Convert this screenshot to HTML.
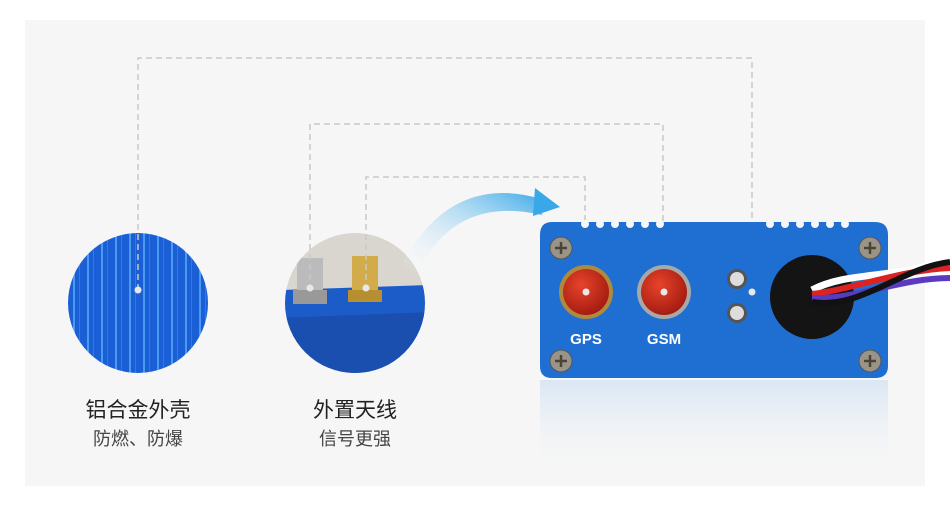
<!DOCTYPE html>
<html><head><meta charset="utf-8"><style>
body{margin:0;width:950px;height:532px;background:#fff;overflow:hidden;position:relative;font-family:"Liberation Sans","Noto Sans CJK SC",sans-serif}
.bg{position:absolute;left:25px;top:20px;width:900px;height:466px;background:#f6f6f6}
.t{position:absolute;text-align:center;width:200px;color:#222}
</style></head><body>
<div class="bg"></div>
<svg width="950" height="532" style="position:absolute;left:0;top:0">
<defs>
<linearGradient id="arr" x1="0" y1="1" x2="1" y2="0"><stop offset="0" stop-color="#fff" stop-opacity="0"/><stop offset="1" stop-color="#3aa8e8"/></linearGradient>
<linearGradient id="refl" x1="0" y1="0" x2="0" y2="1"><stop offset="0" stop-color="#c8dcf2"/><stop offset="1" stop-color="#f6f6f6" stop-opacity="0"/></linearGradient>
<radialGradient id="red" cx="0.4" cy="0.35" r="0.7"><stop offset="0" stop-color="#e8442a"/><stop offset="1" stop-color="#a01a10"/></radialGradient>
<pattern id="stripes" width="14" height="10" patternUnits="userSpaceOnUse"><rect width="14" height="10" fill="#1a5fd6"/><rect x="3" width="2" height="10" fill="#4a9af2"/><rect x="9" width="1" height="10" fill="#2e7ae8"/></pattern>
<clipPath id="c1"><circle cx="138" cy="303" r="70"/></clipPath>
<clipPath id="c2"><circle cx="355" cy="303" r="70"/></clipPath>
</defs>
<!-- left circle -->
<circle cx="138" cy="303" r="70" fill="url(#stripes)"/>
<!-- middle circle -->
<g clip-path="url(#c2)">
<rect x="280" y="230" width="150" height="150" fill="#d9d6cf"/>
<path d="M280 290 L430 285 L430 380 L280 380Z" fill="#1c5cc8"/>
<path d="M280 318 L430 312 L430 380 L280 380Z" fill="#1a4fb0"/>
<rect x="297" y="258" width="26" height="40" fill="#bbb"/>
<rect x="293" y="290" width="34" height="14" fill="#999"/>
<rect x="352" y="256" width="26" height="40" fill="#d2ac4a"/>
<rect x="348" y="290" width="34" height="12" fill="#b88f30"/>
</g>
<!-- dashed lines -->
<g fill="none" stroke="#c8c8c8" stroke-width="1.5" stroke-dasharray="6,4">
<path d="M138 290 V58 H752 V292"/>
<path d="M310 290 V124 H663 V292"/>
<path d="M366 290 V177 H585 V292"/>
</g>
<!-- arrow -->
<path d="M400 268 Q450 170 545 200 L542 215 Q455 195 418 272Z" fill="url(#arr)"/>
<path d="M535 188 L560 207 L533 216Z" fill="#3aa8e8"/>
<!-- reflection -->
<rect x="540" y="380" width="348" height="95" fill="url(#refl)" opacity="0.6"/>
<!-- device -->
<path d="M552 222 H875 Q888 222 888 235 V366 Q888 378 875 378 H552 Q540 378 540 366 V235 Q540 222 552 222Z" fill="#1f6fd2"/>
<g fill="#f6f6f6"><circle cx="585" cy="224" r="4"/><circle cx="600" cy="224" r="4"/><circle cx="615" cy="224" r="4"/><circle cx="630" cy="224" r="4"/><circle cx="645" cy="224" r="4"/><circle cx="660" cy="224" r="4"/><circle cx="770" cy="224" r="4"/><circle cx="785" cy="224" r="4"/><circle cx="800" cy="224" r="4"/><circle cx="815" cy="224" r="4"/><circle cx="830" cy="224" r="4"/><circle cx="845" cy="224" r="4"/></g>
<g fill="#9a9488" stroke="#555" stroke-width="1"><circle cx="561" cy="248" r="11"/><circle cx="870" cy="248" r="11"/><circle cx="561" cy="361" r="11"/><circle cx="870" cy="361" r="11"/></g>
<g stroke="#4a4436" stroke-width="2.5"><path d="M555 248h12M561 242v12M864 248h12M870 242v12M555 361h12M561 355v12M864 361h12M870 355v12"/></g>
<circle cx="586" cy="292" r="27" fill="#b08a3c"/><circle cx="586" cy="292" r="23" fill="url(#red)"/>
<circle cx="664" cy="292" r="27" fill="#a8a8a8"/><circle cx="664" cy="292" r="23" fill="url(#red)"/>
<circle cx="737" cy="279" r="10" fill="#555"/><circle cx="737" cy="279" r="7" fill="#ddd"/>
<circle cx="737" cy="313" r="10" fill="#555"/><circle cx="737" cy="313" r="7" fill="#ddd"/>
<circle cx="812" cy="297" r="42" fill="#141414"/>
<path d="M812 290 C850 270 900 280 950 258" stroke="#fff" stroke-width="7" fill="none"/>
<path d="M812 294 C850 290 900 270 950 268" stroke="#d22" stroke-width="6" fill="none"/>
<path d="M812 298 C855 300 900 278 950 278" stroke="#5a3ac0" stroke-width="6" fill="none"/>
<path d="M812 302 C860 310 900 268 950 262" stroke="#111" stroke-width="6" fill="none"/>
<text x="586" y="344" fill="#fff" font-size="15" font-weight="bold" text-anchor="middle" font-family="Liberation Sans">GPS</text>
<text x="664" y="344" fill="#fff" font-size="15" font-weight="bold" text-anchor="middle" font-family="Liberation Sans">GSM</text>
<g fill="#e8e8e8"><circle cx="138" cy="290" r="3.5"/><circle cx="310" cy="288" r="3.5"/><circle cx="366" cy="288" r="3.5"/><circle cx="586" cy="292" r="3.5"/><circle cx="664" cy="292" r="3.5"/><circle cx="752" cy="292" r="3.5"/></g>
</svg>
<div class="t" style="left:38px;top:394px;font-size:21px">铝合金外壳</div>
<div class="t" style="left:38px;top:425px;font-size:18px;color:#444">防燃、防爆</div>
<div class="t" style="left:255px;top:394px;font-size:21px">外置天线</div>
<div class="t" style="left:255px;top:425px;font-size:18px;color:#444">信号更强</div>
</body></html>
